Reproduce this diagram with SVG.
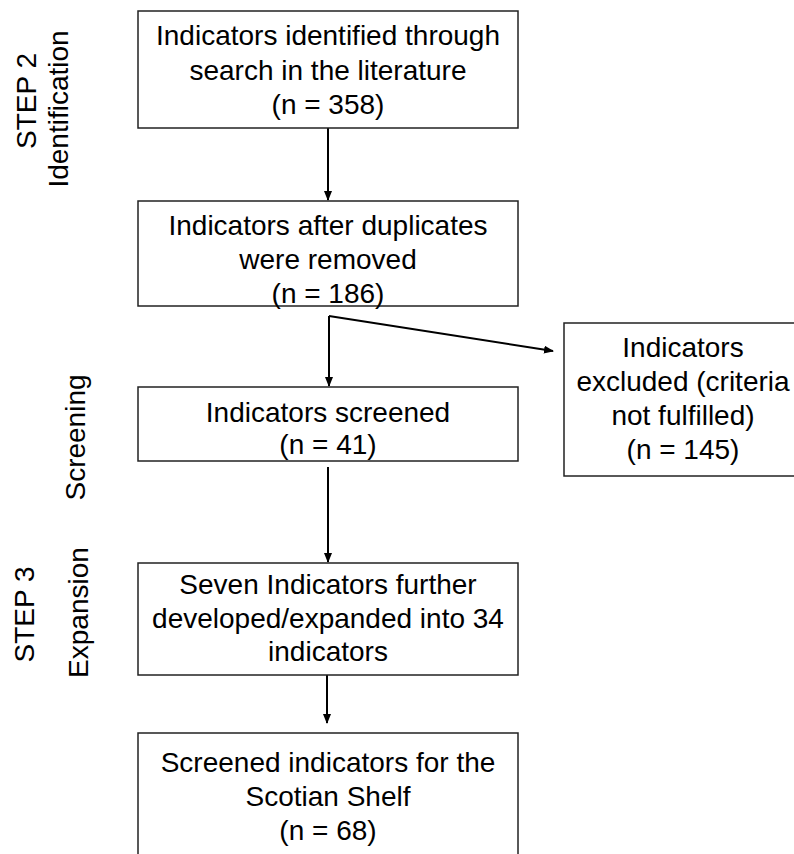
<svg xmlns="http://www.w3.org/2000/svg" width="794" height="854" viewBox="0 0 794 854">
<style>
.box{fill:#fff;stroke:#222;stroke-width:1.5}
.t{font-family:"Liberation Sans",Arial,sans-serif;font-size:28px;fill:#000;text-anchor:middle}
.c{fill:none;stroke:#000;stroke-width:2}
</style>
<defs>
<marker id="ah" markerUnits="userSpaceOnUse" markerWidth="10" markerHeight="8" refX="9" refY="4" orient="auto">
<path d="M0,0 L10,4 L0,8 Z" fill="#000"/>
</marker>
</defs>
<rect width="794" height="854" fill="#fff"/>
<g id="labels">
<text class="t" transform="translate(36,101) rotate(-90)">STEP 2</text>
<text class="t" transform="translate(68,109) rotate(-90)">Identification</text>
<text class="t" transform="translate(85,437.5) rotate(-90)">Screening</text>
<text class="t" transform="translate(34,614.5) rotate(-90)">STEP 3</text>
<text class="t" transform="translate(88,612.5) rotate(-90)">Expansion</text>
</g>
<g id="connectors">
<path class="c" d="M328,128 V200" marker-end="url(#ah)"/>
<path class="c" d="M329,316 V386" marker-end="url(#ah)"/>
<path class="c" d="M329,316 L553,351" marker-end="url(#ah)"/>
<path class="c" d="M328,467 V562" marker-end="url(#ah)"/>
<path class="c" d="M327,675 V723" marker-end="url(#ah)"/>
</g>
<g id="n1">
<rect class="box" x="138" y="11" width="380" height="117"/>
<text class="t" x="328" y="45">Indicators identified through</text>
<text class="t" x="328" y="80">search in the literature</text>
<text class="t" x="328" y="114">(n = 358)</text>
</g>
<g id="n2">
<rect class="box" x="138" y="201" width="380" height="105"/>
<text class="t" x="328" y="235">Indicators after duplicates</text>
<text class="t" x="328" y="269">were removed</text>
<text class="t" x="328" y="303">(n = 186)</text>
</g>
<g id="n3">
<rect class="box" x="138" y="387" width="380" height="74"/>
<text class="t" x="328" y="422">Indicators screened</text>
<text class="t" x="328" y="454">(n = 41)</text>
</g>
<g id="n4">
<rect class="box" x="564" y="323" width="238" height="153"/>
<text class="t" x="683" y="357">Indicators</text>
<text class="t" x="683" y="391">excluded (criteria</text>
<text class="t" x="683" y="425">not fulfilled)</text>
<text class="t" x="683" y="459">(n = 145)</text>
</g>
<g id="n5">
<rect class="box" x="138" y="563" width="380" height="112"/>
<text class="t" x="328" y="594">Seven Indicators further</text>
<text class="t" x="328" y="628">developed/expanded into 34</text>
<text class="t" x="328" y="661">indicators</text>
</g>
<g id="n6">
<rect class="box" x="138" y="733" width="380" height="140"/>
<text class="t" x="328" y="772">Screened indicators for the</text>
<text class="t" x="328" y="806">Scotian Shelf</text>
<text class="t" x="328" y="840">(n = 68)</text>
</g>
</svg>
